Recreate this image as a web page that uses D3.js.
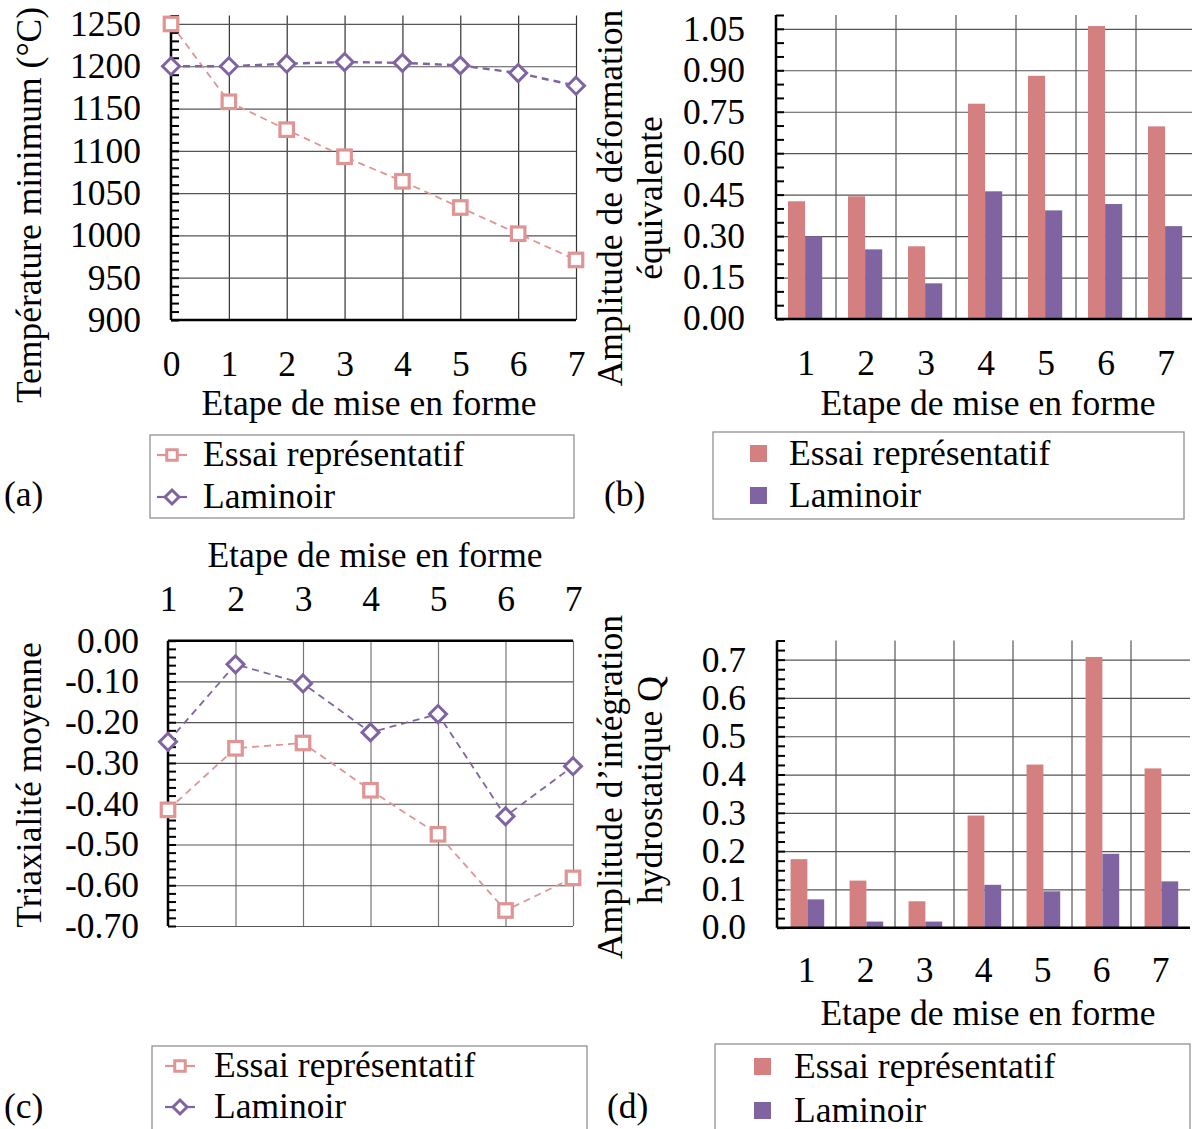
<!DOCTYPE html>
<html><head><meta charset="utf-8">
<script src="https://cdn.jsdelivr.net/npm/d3@7"></script>
<style>
html,body{margin:0;padding:0;background:#fff;}
svg{display:block;font-family:"Liberation Serif","Times New Roman",serif;}
</style></head>
<body>
<svg id="chart" width="1192" height="1129"></svg>
<script>
// ---------- DATA ----------
const seriesNames = ["Essai représentatif", "Laminoir"];
const xTitle = "Etape de mise en forme";

const stepsA = [0, 1, 2, 3, 4, 5, 6, 7];
const steps = [1, 2, 3, 4, 5, 6, 7];

const tempEssai = [1250, 1158, 1125, 1093, 1064, 1033, 1002, 971];
const tempLam   = [1200, 1200, 1203, 1205, 1204, 1201, 1192, 1177];
const tempTicks = [900, 950, 1000, 1050, 1100, 1150, 1200, 1250];

const defEssai = [0.426, 0.444, 0.263, 0.779, 0.880, 1.060, 0.697];
const defLam   = [0.299, 0.252, 0.129, 0.462, 0.393, 0.416, 0.336];
const defTicks = [0, 0.15, 0.30, 0.45, 0.60, 0.75, 0.90, 1.05];

const triEssai = [-0.415, -0.264, -0.251, -0.367, -0.475, -0.662, -0.582];
const triLam   = [-0.248, -0.058, -0.105, -0.225, -0.180, -0.431, -0.308];
const triTicks = [0, -0.10, -0.20, -0.30, -0.40, -0.50, -0.60, -0.70];

const qEssai = [0.179, 0.123, 0.069, 0.293, 0.426, 0.707, 0.416];
const qLam   = [0.074, 0.016, 0.016, 0.112, 0.095, 0.193, 0.121];
const qTicks = [0, 0.1, 0.2, 0.3, 0.4, 0.5, 0.6, 0.7];

// ---------- STYLE ----------
const colEssaiLine = "#e09494";
const colLamLine = "#8064a2";
const colEssaiBar = "#d48080";
const colLamBar = "#8064a2";
const gridCol = "#555";
const FS = 35.5;

const svg = d3.select("#chart");

function styleGrid(g){
  g.select(".domain").remove();
  g.selectAll("line").attr("stroke", gridCol).attr("stroke-width", 1.2);
}

function yAxisBlock(g, y, x0, w, major, minor, fmt, labelX){
  g.append("g").attr("transform", `translate(${x0},0)`)
    .call(d3.axisLeft(y).tickValues(major).tickSize(-w).tickFormat(""))
    .call(styleGrid);
  g.append("g").attr("transform", `translate(${x0},0)`)
    .call(d3.axisRight(y).tickValues(minor).tickSize(8).tickFormat(""))
    .call(a => { a.select(".domain").remove(); a.selectAll("line").attr("stroke","#000").attr("stroke-width",2); });
  const lab = g.append("g").attr("transform", `translate(${labelX},0)`)
    .call(d3.axisLeft(y).tickValues(major).tickSize(0).tickPadding(0).tickFormat(fmt));
  lab.select(".domain").remove();
  lab.selectAll("text").attr("font-size", FS).attr("font-family","Liberation Serif").attr("fill","#000");
  const r = y.range();
  g.append("line").attr("x1", x0).attr("x2", x0).attr("y1", r[0]).attr("y2", r[1])
    .attr("stroke", "#000").attr("stroke-width", 2.5);
}

function rangeTicks(lo, hi, step){
  const out = [];
  const n = Math.round((hi - lo) / step);
  for (let i = 0; i <= n; i++) out.push(+(lo + i * step).toFixed(6));
  return out;
}

function squareSym(sel, cx, cy, s, col, sw){
  sel.append("rect").attr("x", cx - s/2).attr("y", cy - s/2).attr("width", s).attr("height", s)
    .attr("fill", "#fff").attr("stroke", col).attr("stroke-width", sw || 3.2);
}
function diamondSym(sel, cx, cy, r, col, sw){
  sel.append("path").attr("d", `M${cx},${cy-r}L${cx+r},${cy}L${cx},${cy+r}L${cx-r},${cy}Z`)
    .attr("fill", "#fff").attr("stroke", col).attr("stroke-width", sw || 3);
}

function textRot(x, y, str){
  svg.append("text").attr("transform", `translate(${x},${y}) rotate(-90)`)
    .attr("text-anchor", "middle").attr("font-size", FS).text(str);
}
function text(x, y, str, anchor){
  svg.append("text").attr("x", x).attr("y", y).attr("text-anchor", anchor || "start")
    .attr("font-size", FS).text(str);
}

// ---------- LINE PANEL ----------
function linePanel(o){
  const g = svg.append("g");
  const x = d3.scaleLinear().domain(o.xDomain).range(o.xRange);
  const y = d3.scaleLinear().domain(o.yDomain).range(o.yRange);
  const w = o.xRange[1] - o.xRange[0];
  g.append("g").attr("transform", `translate(0,${o.yRange[0]})`)
    .call(d3.axisBottom(x).tickValues(o.xs.slice(1)).tickSize(-(o.yRange[0] - o.yRange[1])).tickFormat(""))
    .call(styleGrid)
    .call(a => a.selectAll("line").attr("stroke", o.vGridCol));
  yAxisBlock(g, y, o.xRange[0], w, o.yTicks, o.minor, o.fmt, o.labelX);
  g.append("line").attr("x1", o.xRange[0]).attr("x2", o.xRange[1])
    .attr("y1", y(o.xAxisAt)).attr("y2", y(o.xAxisAt)).attr("stroke", "#000").attr("stroke-width", 2.5);
  const lab = g.append("g").attr("transform", `translate(0,${o.xLabY})`)
    .call(d3.axisBottom(x).tickValues(o.xs).tickSize(0).tickPadding(0).tickFormat(d3.format("d")));
  lab.select(".domain").remove();
  lab.selectAll("text").attr("font-size", FS).attr("font-family","Liberation Serif").attr("fill","#000").attr("dy", 0);
  const line = d3.line().x((d, i) => x(o.xs[i])).y(d => y(d));
  g.append("path").datum(o.essai).attr("d", line).attr("fill", "none")
    .attr("stroke", colEssaiLine).attr("stroke-width", 1.8).attr("stroke-dasharray", "7,5");
  g.append("path").datum(o.lam).attr("d", line).attr("fill", "none")
    .attr("stroke", colLamLine).attr("stroke-width", o.lamW).attr("stroke-dasharray", "7,5");
  o.essai.forEach((v, i) => squareSym(g, x(o.xs[i]), y(v), 13.5, colEssaiLine));
  o.lam.forEach((v, i) => diamondSym(g, x(o.xs[i]), y(v), 8.5, colLamLine));
}

// ---------- BAR PANEL ----------
function barPanel(o){
  const g = svg.append("g");
  const x0 = d3.scaleBand().domain(steps).range(o.xRange).padding(0);
  const bw = x0.bandwidth();
  const x1 = d3.scaleBand().domain(seriesNames).range([o.inner[0] * bw, o.inner[1] * bw]).padding(0);
  const y = d3.scaleLinear().domain(o.yDomain).range(o.yRange);
  const w = o.xRange[1] - o.xRange[0];
  const bounds = steps.slice(1).map(s => x0(s));
  g.selectAll(".vg").data(bounds).enter().append("line")
    .attr("x1", d => d).attr("x2", d => d).attr("y1", o.yRange[0]).attr("y2", o.yRange[1])
    .attr("stroke", gridCol).attr("stroke-width", 1.2);
  yAxisBlock(g, y, o.xRange[0], w, o.yTicks.slice(1), o.minor, o.fmt, o.labelX);
  g.append("text").attr("x", o.labelX).attr("y", y(0)).attr("dy", "0.32em").attr("text-anchor", "end")
    .attr("font-size", FS).text(o.fmt(0));
  const data = [o.essai, o.lam];
  const cols = [colEssaiBar, colLamBar];
  data.forEach((arr, si) => {
    g.selectAll(".b" + si).data(arr).enter().append("rect")
      .attr("x", (d, i) => x0(steps[i]) + x1(seriesNames[si]))
      .attr("width", x1.bandwidth())
      .attr("y", d => y(d)).attr("height", d => y(0) - y(d))
      .attr("fill", cols[si]);
  });
  g.append("line").attr("x1", o.xRange[0]).attr("x2", o.xRange[1])
    .attr("y1", y(0)).attr("y2", y(0)).attr("stroke", "#000").attr("stroke-width", 2.5);
  const lab = g.append("g").attr("transform", `translate(0,${o.xLabY})`)
    .call(d3.axisBottom(x0).tickSize(0).tickPadding(0));
  lab.select(".domain").remove();
  lab.selectAll("text").attr("font-size", FS).attr("font-family","Liberation Serif").attr("fill","#000").attr("dy", 0);
}

function lineLegend(x, y, w, h, tx, mx, y1, y2){
  svg.append("rect").attr("x", x).attr("y", y).attr("width", w).attr("height", h)
    .attr("fill", "none").attr("stroke", "#888").attr("stroke-width", 1.2);
  [[y1, colEssaiLine, 0], [y2, colLamLine, 1]].forEach(([yy, c, k]) => {
    svg.append("line").attr("x1", mx - 15).attr("x2", mx + 15).attr("y1", yy).attr("y2", yy)
      .attr("stroke", c).attr("stroke-width", 2.2);
    if (k === 0) squareSym(svg, mx, yy, 10.5, c, 3); else diamondSym(svg, mx, yy, 7, c, 3);
    text(tx, yy + 11, seriesNames[k]);
  });
}
function barLegend(x, y, w, h, tx, mx, y1, y2){
  svg.append("rect").attr("x", x).attr("y", y).attr("width", w).attr("height", h)
    .attr("fill", "none").attr("stroke", "#888").attr("stroke-width", 1.2);
  [[y1, colEssaiBar, 0], [y2, colLamBar, 1]].forEach(([yy, c, k]) => {
    svg.append("rect").attr("x", mx - 8).attr("y", yy - 8).attr("width", 17).attr("height", 17).attr("fill", c);
    text(tx, yy + 12, seriesNames[k]);
  });
}

// ---------- (a) ----------
linePanel({
  xs: stepsA, xDomain: [0, 7], xRange: [171, 576],
  yDomain: [900, 1260], yRange: [320, 15.5],
  yTicks: tempTicks, minor: rangeTicks(900, 1260, 10), fmt: d3.format("d"), labelX: 141,
  xAxisAt: 900, xLabY: 376, vGridCol: "#333", lamW: 2.4,
  essai: tempEssai, lam: tempLam
});
textRot(41, 205, "Température minimum (°C)");
text(369, 415, xTitle, "middle");
lineLegend(150, 435, 424, 83, 203, 172, 455, 497);
text(4, 506, "(a)");

// ---------- (b) ----------
barPanel({
  xRange: [776, 1196], inner: [0.2, 0.77],
  yDomain: [0, 1.10], yRange: [319, 15],
  yTicks: defTicks, minor: rangeTicks(0, 1.10, 0.05), fmt: v => v.toFixed(2), labelX: 745,
  xLabY: 375, essai: defEssai, lam: defLam
});
textRot(622, 198, "Amplitude de déformation");
textRot(662, 198, "équivalente");
text(988, 415, xTitle, "middle");
barLegend(713, 432, 471, 87, 789, 758, 453, 495);
text(604, 506, "(b)");

// ---------- (c) ----------
linePanel({
  xs: steps, xDomain: [1, 7], xRange: [168, 573],
  yDomain: [-0.70, 0], yRange: [926, 640.7],
  yTicks: triTicks, minor: rangeTicks(-0.70, 0, 0.02), fmt: v => (Math.abs(v) < 1e-9 ? 0 : v).toFixed(2), labelX: 139,
  xAxisAt: 0, xLabY: 611, vGridCol: "#777", lamW: 1.8,
  essai: triEssai, lam: triLam
});
textRot(41, 785, "Triaxialité moyenne");
text(375, 567, xTitle, "middle");
lineLegend(152, 1046, 435, 100, 214, 180, 1066, 1107);
text(4, 1118, "(c)");

// ---------- (d) ----------
barPanel({
  xRange: [777, 1190], inner: [0.23, 0.8],
  yDomain: [0, 0.75], yRange: [927.7, 640.5],
  yTicks: qTicks, minor: rangeTicks(0, 0.75, 0.025), fmt: v => v.toFixed(1), labelX: 746,
  xLabY: 982, essai: qEssai, lam: qLam
});
textRot(622, 787, "Amplitude d’intégration");
textRot(662, 790, "hydrostatique Q");
text(988, 1025, xTitle, "middle");
barLegend(715, 1044, 475, 100, 794, 762, 1066, 1110);
text(607, 1118, "(d)");
</script>
</body></html>
